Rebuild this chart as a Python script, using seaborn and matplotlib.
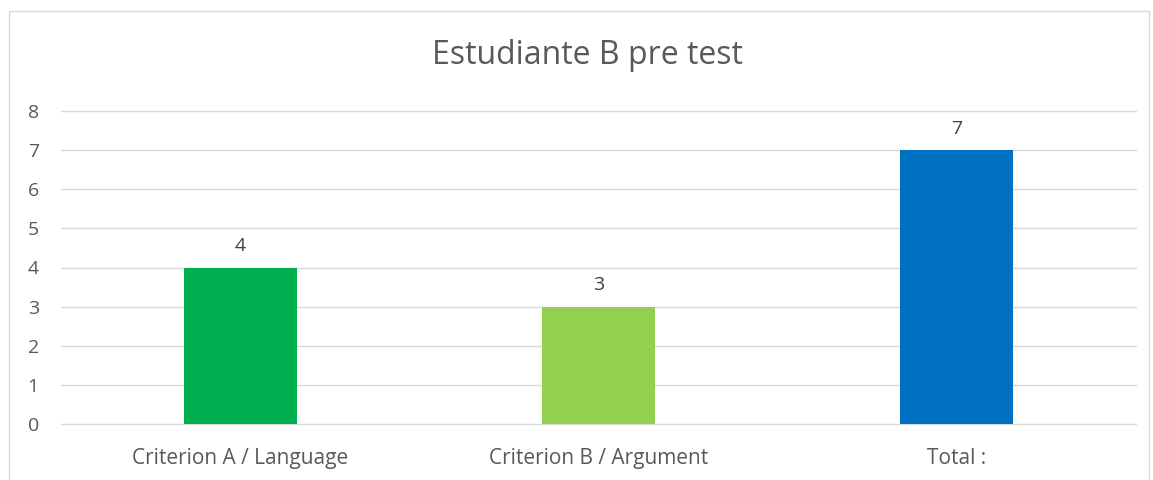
import matplotlib
matplotlib.use('Agg')
import matplotlib.pyplot as plt
import seaborn as sns
import pandas as pd
from matplotlib.patches import Rectangle

categories = ['Criterion A / Language', 'Criterion B / Argument', 'Total :']
scores = [4, 3, 7]
bar_colors = ['#00B050', '#92D050', '#0070C0']

sns.set_style('white')
plt.rcParams['font.family'] = ['Open Sans', 'DejaVu Sans']

df = pd.DataFrame({'cat': categories, 'score': scores})

fig = plt.figure(figsize=(11.53, 4.8), dpi=100)
ax = fig.add_axes([61 / 1153, 1 - 424 / 480, 1075 / 1153, 313 / 480])

sns.barplot(data=df, x='cat', y='score', hue='cat', palette=bar_colors,
            width=0.315, saturation=1, linewidth=0, legend=False, ax=ax, zorder=3)

ax.set_ylim(0, 8)
ax.set_yticks(range(0, 9))
ax.set_xlim(-0.5, 2.5)
ax.grid(axis='y', color='#D9D9D9', linewidth=1, zorder=0)
for gl in ax.get_ygridlines():
    gl.set_clip_on(False)
for s in ax.spines.values():
    s.set_visible(False)
ax.tick_params(axis='y', length=0, labelsize=14, labelcolor='#595959', pad=16)
ax.tick_params(axis='x', length=0, labelsize=15, labelcolor='#595959', pad=17)
ax.set_xlabel('')
ax.set_ylabel('')

for i, v in enumerate(scores):
    ax.annotate(str(v), (i, v), xytext=(0, 9), textcoords='offset points',
                ha='center', va='bottom', fontsize=14, color='#404040')

fig.text(587 / 1153, 1 - 55 / 480, 'Estudiante B pre test', ha='center', va='center',
         fontsize=23, color='#595959')

fig.patches.append(Rectangle((9 / 1153, -0.01), 1140 / 1153, 1 - 11 / 480 + 0.01,
                             transform=fig.transFigure, fill=False,
                             edgecolor='#D9D9D9', linewidth=1))

fig.savefig('out.png', dpi=100, facecolor='white')
